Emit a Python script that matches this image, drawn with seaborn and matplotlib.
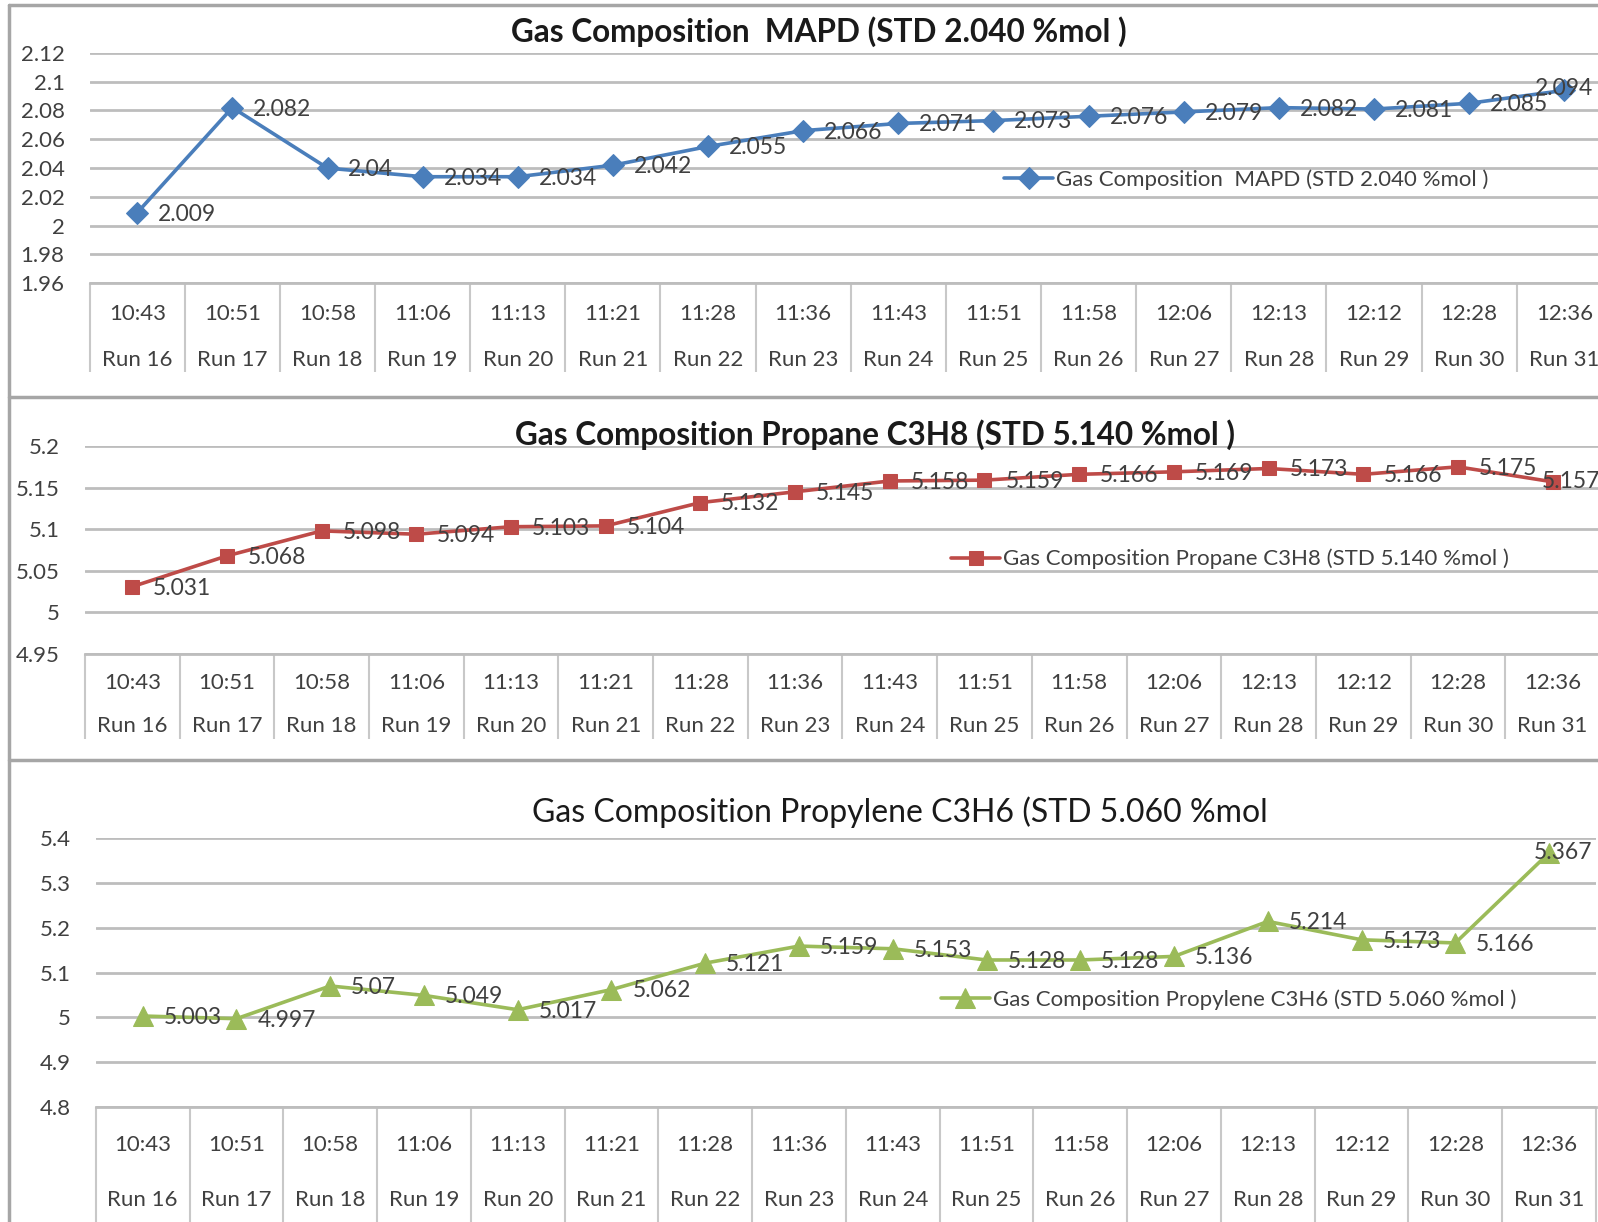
import numpy as np
import pandas as pd
import seaborn as sns
import matplotlib.pyplot as plt
from matplotlib.lines import Line2D

sns.set_theme(style="white")
plt.rcParams['font.family'] = ['Lato', 'DejaVu Sans']

# data
times = ["10:43", "10:51", "10:58", "11:06", "11:13", "11:21", "11:28", "11:36",
         "11:43", "11:51", "11:58", "12:06", "12:13", "12:12", "12:28", "12:36"]
runs = ["Run 16", "Run 17", "Run 18", "Run 19", "Run 20", "Run 21", "Run 22", "Run 23",
        "Run 24", "Run 25", "Run 26", "Run 27", "Run 28", "Run 29", "Run 30", "Run 31"]
mapd = [2.009, 2.082, 2.04, 2.034, 2.034, 2.042, 2.055, 2.066,
        2.071, 2.073, 2.076, 2.079, 2.082, 2.081, 2.085, 2.094]
propane = [5.031, 5.068, 5.098, 5.094, 5.103, 5.104, 5.132, 5.145,
           5.158, 5.159, 5.166, 5.169, 5.173, 5.166, 5.175, 5.157]
propylene = [5.003, 4.997, 5.07, 5.049, 5.017, 5.062, 5.121, 5.159,
             5.153, 5.128, 5.128, 5.136, 5.214, 5.173, 5.166, 5.367]

title1 = "Gas Composition  MAPD (STD 2.040 %mol )"
title2 = "Gas Composition Propane C3H8 (STD 5.140 %mol )"
title3 = "Gas Composition Propylene C3H6 (STD 5.060 %mol"
legend3 = "Gas Composition Propylene C3H6 (STD 5.060 %mol )"

TXT = "#404040"
GRID = "#bdbdbd"

fig = plt.figure(figsize=(15.98, 12.22), dpi=100)

panels = [
    dict(vals=mapd, color="#4a7ebb", marker="D", ms=11, label=title1, title=title1,
         ticks=np.arange(1.96, 2.1201, 0.02), pos=[0.0561, 0.7682, 0.9526, 0.1885],
         leg=(0.76, 0.45), t_xy=(0.5125, 0.974), t_size=22.7, t_weight="bold",
         off1=22, off2=55, sep=64, last=(-21, 1)),
    dict(vals=propane, color="#be4b48", marker="s", ms=10.5, label=title2, title=title2,
         ticks=np.arange(4.95, 5.2001, 0.05), pos=[0.0532, 0.4648, 0.948, 0.1702],
         leg=(0.756, 0.456), t_xy=(0.5475, 0.644), t_size=22.7, t_weight="bold",
         off1=21, off2=52, sep=61, last=(-8, 0)),
    dict(vals=propylene, color="#9bbb59", marker="^", ms=14, label=legend3, title=title3,
         ticks=np.arange(4.8, 5.4001, 0.1), pos=[0.05995, 0.0941, 0.9388, 0.2201],
         leg=(0.755, 0.40), t_xy=(0.563, 0.3355), t_size=23, t_weight="normal",
         off1=27, off2=67, sep=90, last=(-11, 0)),
]

idx = np.arange(len(times))

for p in panels:
    ax = fig.add_axes(p["pos"])
    df = pd.DataFrame({"x": idx, "y": p["vals"]})
    sns.lineplot(data=df, x="x", y="y", ax=ax, color=p["color"], lw=2.6,
                 marker=p["marker"], markersize=p["ms"], markeredgecolor=p["color"],
                 label=p["label"])
    ax.set_xlim(-0.5, len(times) - 0.5)
    ax.set_ylim(p["ticks"][0], p["ticks"][-1])
    ax.set_yticks(p["ticks"])
    ax.set_yticklabels([f"{round(t, 2):g}" for t in p["ticks"]], color=TXT, fontsize=16)
    ax.yaxis.grid(True, color=GRID, lw=2)
    ax.tick_params(axis="y", length=0, pad=18)
    ax.set_xlabel("")
    ax.set_ylabel("")
    for s in ["top", "right", "left"]:
        ax.spines[s].set_visible(False)
    ax.spines["bottom"].set_color(GRID)
    ax.spines["bottom"].set_linewidth(2)
    # category separators
    ax.set_xticks(idx)
    ax.set_xticklabels([])
    ax.set_xticks(np.arange(-0.5, len(times)), minor=True)
    ax.tick_params(axis="x", which="major", length=0)
    ax.tick_params(axis="x", which="minor", length=p["sep"], width=1.5, color="#c8c8c8",
                   direction="out", bottom=True)
    for i in idx:
        ax.annotate(times[i], (i, 0), xycoords=("data", "axes fraction"),
                    xytext=(0, -p["off1"]), textcoords="offset points",
                    ha="center", va="center", fontsize=16, color=TXT)
        ax.annotate(runs[i], (i, 0), xycoords=("data", "axes fraction"),
                    xytext=(0, -p["off2"]), textcoords="offset points",
                    ha="center", va="center", fontsize=16, color=TXT)
    # data labels
    for i, v in enumerate(p["vals"]):
        dx, dy = (15, -1) if i < len(idx) - 1 else p["last"]
        ax.annotate(f"{v:g}", (i, v), xytext=(dx, dy), textcoords="offset points",
                    ha="left", va="center", fontsize=16.5, color=TXT)
    ax.legend(loc="center", bbox_to_anchor=p["leg"], frameon=False, fontsize=16,
              handlelength=2.2, handletextpad=0.15, labelcolor=TXT)
    fig.text(p["t_xy"][0], p["t_xy"][1], p["title"], ha="center", va="center",
             fontsize=p["t_size"], fontweight=p["t_weight"], color="#1a1a1a")

# chart frames
frame = dict(color="#a6a6a6", lw=2.5, transform=fig.transFigure)
fig.add_artist(Line2D([0.0056, 0.0056], [0, 1 - 5 / 1222], **frame))
for y in [5, 397, 760]:
    fig.add_artist(Line2D([0.0056, 1], [1 - y / 1222] * 2, **frame))

fig.savefig("out.png", dpi=100)
